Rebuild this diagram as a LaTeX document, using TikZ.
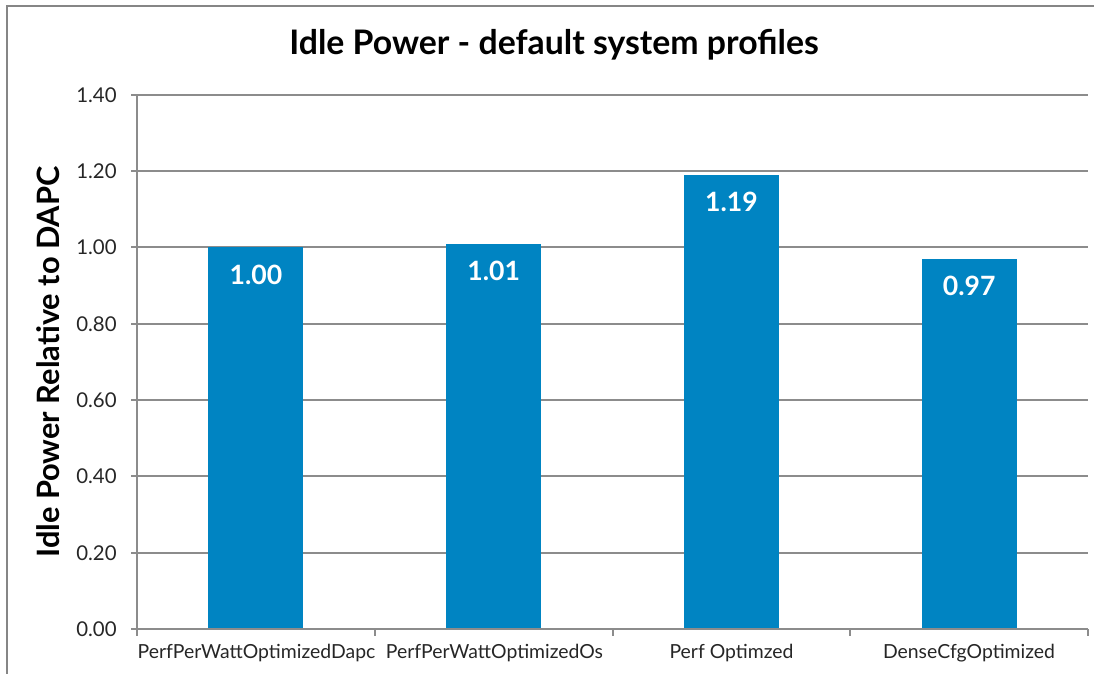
\documentclass[tikz,border=0pt]{standalone}
\usepackage{fontspec}
\setmainfont{Lato}
\definecolor{barblue}{HTML}{0084C2}
\definecolor{gridgray}{HTML}{8C8C8C}
\definecolor{framegray}{HTML}{868686}
\begin{document}
\begin{tikzpicture}[x=0.5pt,y=-0.5pt,
  grid/.style={draw=gridgray,line width=1pt},
  bar/.style={fill=barblue,draw=none},
  ticklbl/.style={anchor=east,inner sep=0pt,font=\fontsize{10.2}{12}\selectfont,text=black!85},
  catlbl/.style={anchor=center,inner sep=0pt,font=\fontsize{9.7}{11}\selectfont,text=black!85},
  vallbl/.style={anchor=center,inner sep=0pt,text=white,font=\bfseries\fontsize{13.3}{15}\selectfont},
  ttl/.style={font=\bfseries\fontsize{16.9}{20}\selectfont,inner sep=0pt}]
\useasboundingbox (0,0) rectangle (1094,674);
% outer frame
\draw[framegray,line width=1pt] (7,680) -- (7,6) -- (1100,6);
% gridlines
\foreach \i in {1,...,7}{
  \draw[grid] (131,{629-\i*76.3}) -- (1088,{629-\i*76.3});
}
% bars
\foreach \v [count=\k from 0] in {1.00,1.01,1.19,0.97}{
  \pgfmathsetmacro{\cx}{137+237.75*\k+118.9}
  \pgfmathsetmacro{\top}{629-\v*381.5}
  \fill[bar] ({\cx-47.5},629) rectangle ({\cx+47.5},\top);
  \node[vallbl] (v\k) at (\cx,{\top+27}) {\v};
}
% axes
\draw[grid] (137,95) -- (137,629);
\draw[grid] (131,629) -- (1088,629);
\foreach \k in {0,...,4}{
  \draw[grid] ({137+237.75*\k},629) -- ({137+237.75*\k},636);
}
% tick labels
\foreach \i/\t in {0/0.00,1/0.20,2/0.40,3/0.60,4/0.80,5/1.00,6/1.20,7/1.40}{
  \node[ticklbl] (t\i) at (117,{629-\i*76.3}) {\t};
}
% category labels
\node[catlbl] (c0) at (256.5,653) {PerfPerWattOptimizedDapc};
\node[catlbl] (c1) at (494.5,653) {PerfPerWattOptimizedOs};
\node[catlbl] (c2) at (731.5,653) {Perf Optimzed};
\node[catlbl] (c3) at (969,653) {DenseCfgOptimized};
% titles
\node[ttl] (title) at (554,45) {Idle Power - default system profiles};
\node[ttl,rotate=90,font=\bfseries\fontsize{15.4}{18}\selectfont] (ytitle) at (48,362) {Idle Power Relative to DAPC};
\end{tikzpicture}
\end{document}
